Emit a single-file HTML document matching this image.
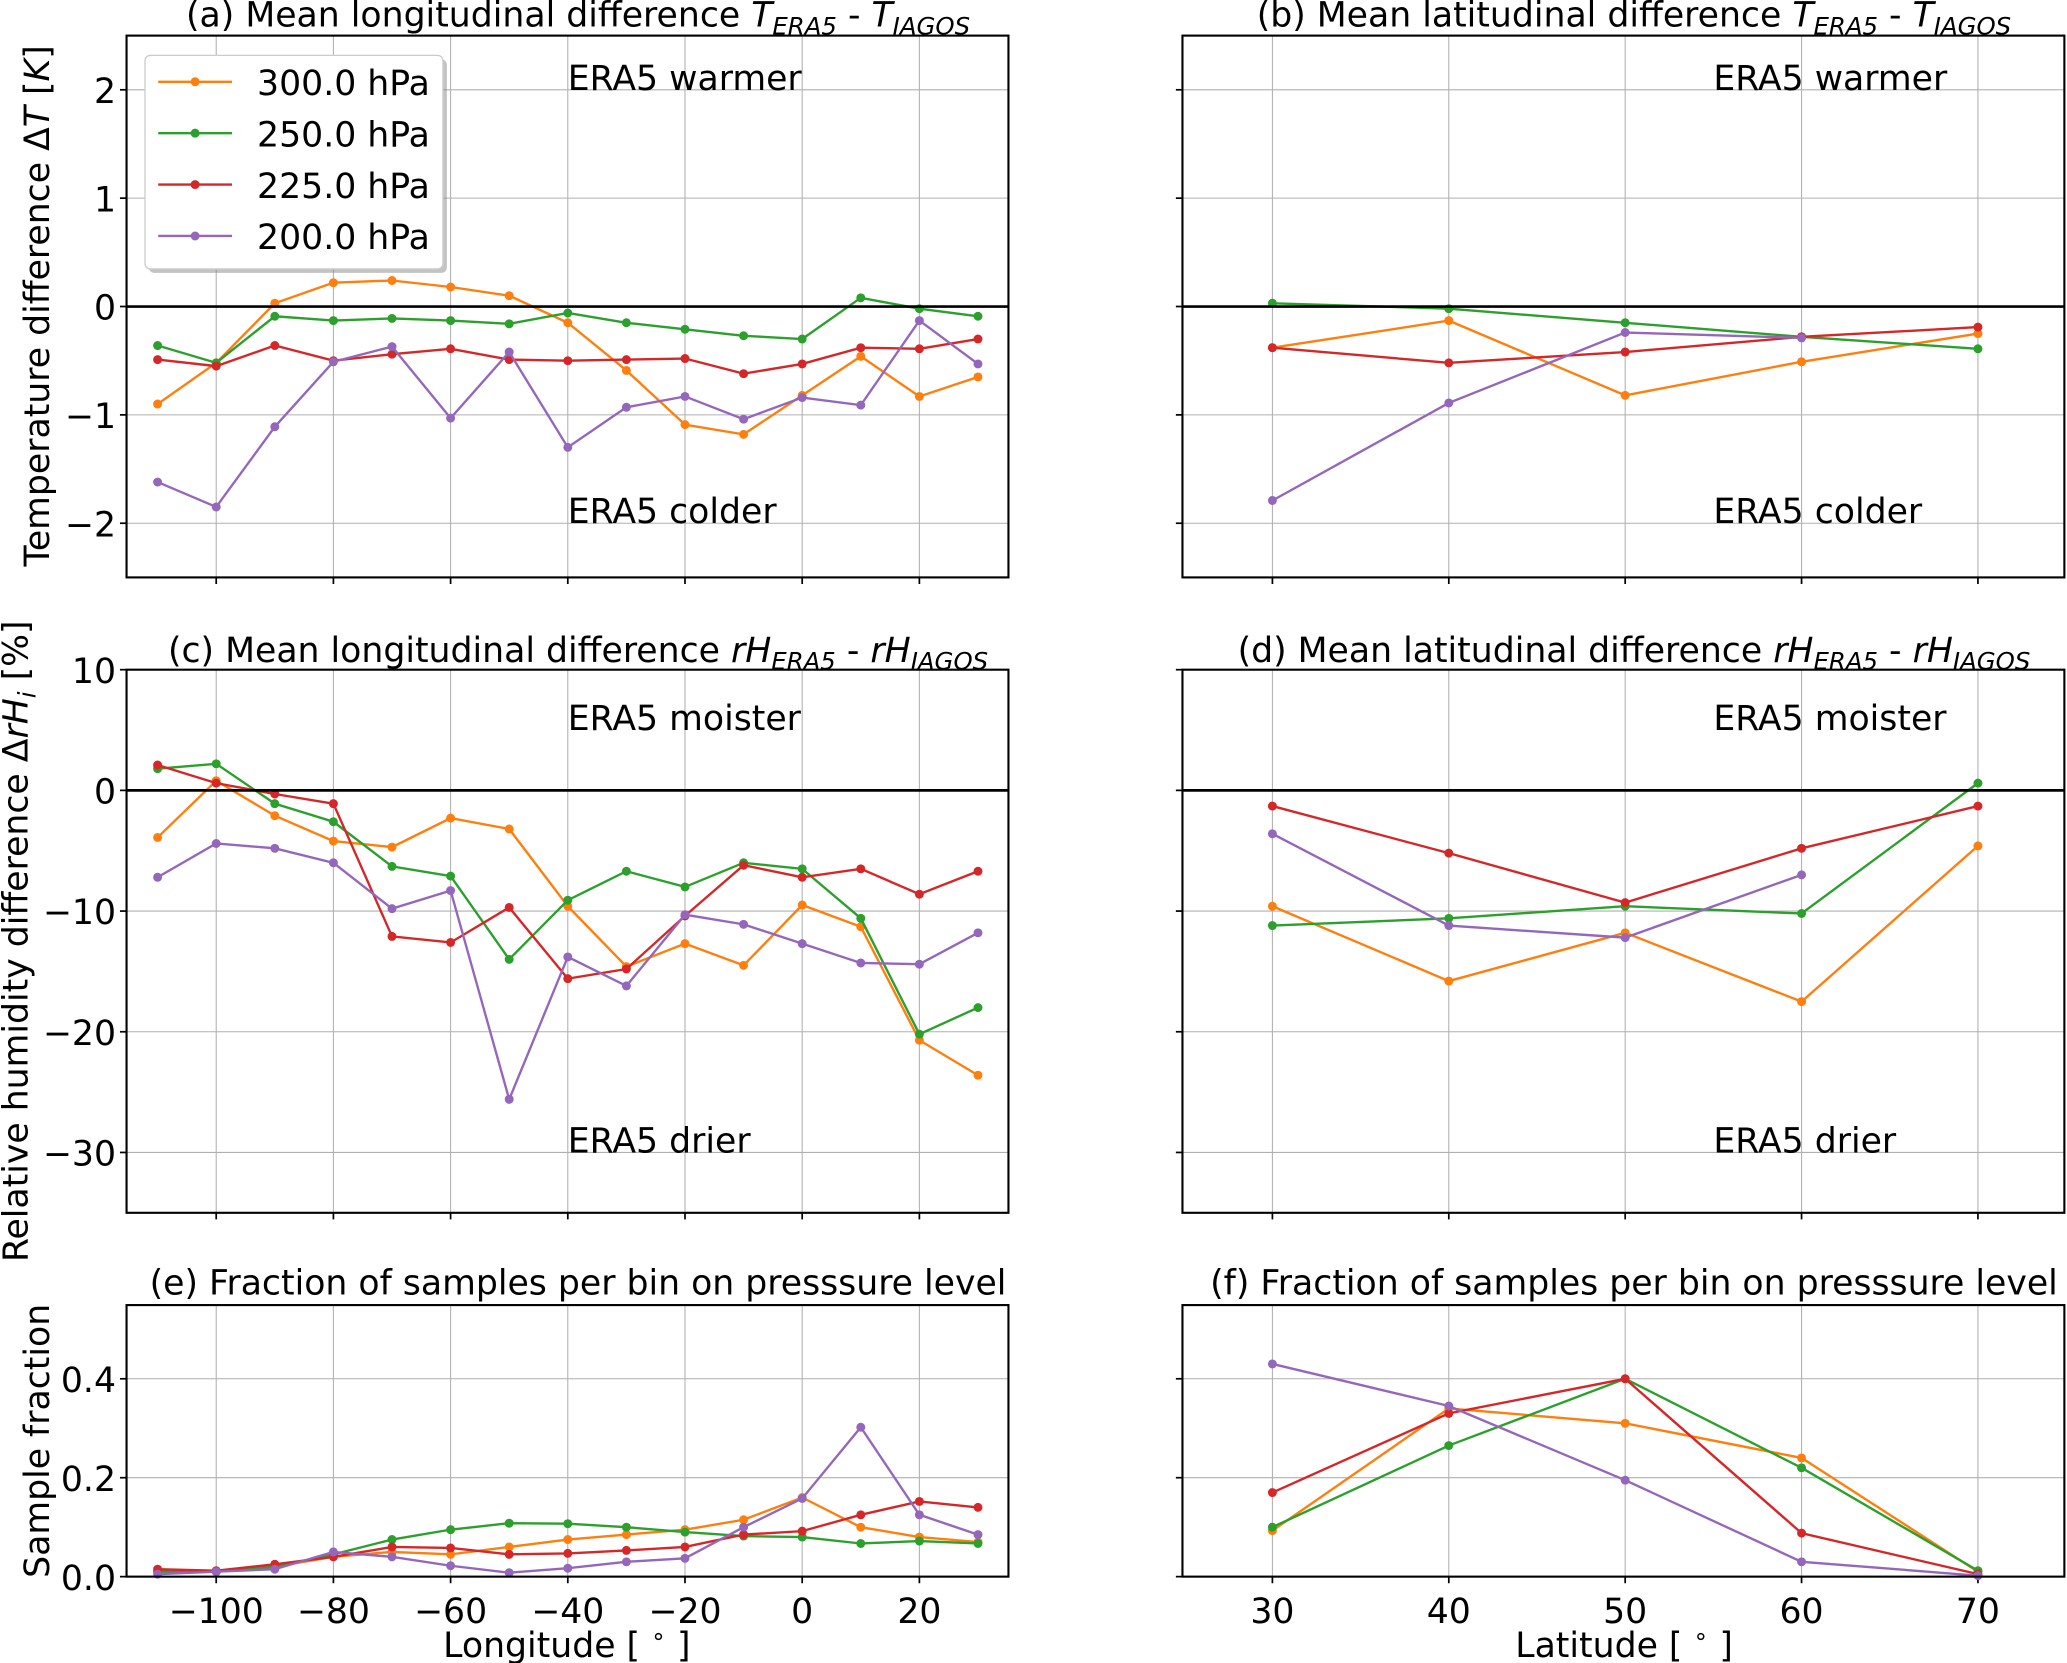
<!DOCTYPE html>
<html><head><meta charset="utf-8"><style>
html,body{margin:0;padding:0;background:#fff}
svg{display:block}
text{font-family:"DejaVu Sans","Liberation Sans",sans-serif;fill:#000}
</style></head><body>
<svg id="fig" xmlns="http://www.w3.org/2000/svg" width="2067" height="1663" viewBox="0 0 1568 1261.5"></svg>
<script>
const lonX = [-110,-100,-90,-80,-70,-60,-50,-40,-30,-20,-10,0,10,20,30];
const latX = [30,40,50,60,70];
const seriesNames = ['300.0 hPa','250.0 hPa','225.0 hPa','200.0 hPa'];
const seriesColors = ['#ff7f0e','#2ca02c','#d62728','#9467bd'];
// (a) temperature, longitude
const aOrange = [-0.9,-0.52,0.03,0.22,0.24,0.18,0.1,-0.15,-0.59,-1.09,-1.18,-0.82,-0.46,-0.83,-0.65];
const aGreen  = [-0.36,-0.52,-0.09,-0.13,-0.11,-0.13,-0.16,-0.06,-0.15,-0.21,-0.27,-0.30,0.08,-0.02,-0.09];
const aRed    = [-0.49,-0.55,-0.36,-0.5,-0.44,-0.39,-0.49,-0.5,-0.49,-0.48,-0.62,-0.53,-0.38,-0.39,-0.3];
const aPurple = [-1.62,-1.85,-1.11,-0.51,-0.37,-1.03,-0.42,-1.3,-0.93,-0.83,-1.04,-0.84,-0.91,-0.13,-0.53];
// (b) temperature, latitude
const bOrange = [-0.38,-0.13,-0.82,-0.51,-0.25];
const bGreen  = [0.03,-0.02,-0.15,-0.28,-0.39];
const bRed    = [-0.38,-0.52,-0.42,-0.28,-0.19];
const bPurple = [-1.79,-0.89,-0.24,-0.29,null];
// (c) rH, longitude
const cOrange = [-3.9,0.8,-2.1,-4.2,-4.7,-2.3,-3.2,-9.6,-14.6,-12.7,-14.5,-9.5,-11.3,-20.7,-23.6];
const cGreen  = [1.8,2.2,-1.1,-2.6,-6.3,-7.1,-14,-9.1,-6.7,-8,-6,-6.5,-10.6,-20.2,-18];
const cRed    = [2.1,0.6,-0.3,-1.1,-12.1,-12.6,-9.7,-15.6,-14.8,-10.4,-6.2,-7.2,-6.5,-8.6,-6.7];
const cPurple = [-7.2,-4.4,-4.8,-6,-9.8,-8.3,-25.6,-13.8,-16.2,-10.3,-11.1,-12.7,-14.3,-14.4,-11.8];
// (d) rH, latitude
const dOrange = [-9.6,-15.8,-11.8,-17.5,-4.6];
const dGreen  = [-11.2,-10.6,-9.6,-10.2,0.6];
const dRed    = [-1.3,-5.2,-9.3,-4.8,-1.3];
const dPurple = [-3.6,-11.2,-12.2,-7.0,null];
// (e) sample fraction, longitude
const eOrange = [0.01,0.01,0.02,0.04,0.05,0.045,0.06,0.075,0.085,0.095,0.115,0.16,0.1,0.08,0.07];
const eGreen  = [0.01,0.01,0.02,0.045,0.075,0.095,0.108,0.107,0.1,0.09,0.082,0.08,0.067,0.072,0.067];
const eRed    = [0.015,0.012,0.025,0.04,0.06,0.058,0.045,0.047,0.053,0.06,0.085,0.092,0.125,0.152,0.14];
const ePurple = [0.005,0.01,0.015,0.05,0.04,0.022,0.008,0.017,0.03,0.037,0.1,0.158,0.302,0.125,0.085];
// (f) sample fraction, latitude
const fOrange = [0.093,0.34,0.31,0.24,0.01];
const fGreen  = [0.1,0.265,0.4,0.22,0.012];
const fRed    = [0.17,0.33,0.4,0.088,0.005];
const fPurple = [0.43,0.345,0.195,0.03,0.002];
const lonTicks = [-100,-80,-60,-40,-20,0,20];
const latTicks = [30,40,50,60,70];
const tTicks = [-2,-1,0,1,2];
const rhTicks = [-30,-20,-10,0,10];
const fracTicks = [0,0.2,0.4];

const FS=26.3, SFS=18.5;
const NS='http://www.w3.org/2000/svg';
const svg=document.getElementById('fig');
function mk(tag,attrs,parent){const e=document.createElementNS(NS,tag);for(const k in attrs)e.setAttribute(k,attrs[k]);(parent||svg).appendChild(e);return e;}
function fmt(v){let s=(Math.abs(v)<1e-9)?'0':String(v);return s.replace('-','\u2212');}

function panel(id,box,xdom,ydom,xticks,yticks,showYLabels,showXLabels,series,xs,tickFmt){
  const [L,R,T,B]=box;
  const g=mk('g',{});
  
  
  const sx=v=>L+(v-xdom[0])/(xdom[1]-xdom[0])*(R-L);
  const sy=v=>B-(v-ydom[0])/(ydom[1]-ydom[0])*(B-T);
  xticks.forEach(t=>{
    const gl=mk('line',{x1:sx(t),x2:sx(t),y1:T,y2:B,stroke:'#b0b0b0','stroke-width':0.8},g);
    
    mk('line',{x1:sx(t),x2:sx(t),y1:B,y2:B+5,stroke:'#000','stroke-width':1.3},g);
    if(showXLabels){const tx=mk('text',{x:sx(t),y:B+35,'text-anchor':'middle','font-size':FS},g);tx.textContent=fmt(t);
      }
  });
  yticks.forEach(t=>{
    const gl=mk('line',{x1:L,x2:R,y1:sy(t),y2:sy(t),stroke:'#b0b0b0','stroke-width':0.8},g);
    
    mk('line',{x1:L-5,x2:L,y1:sy(t),y2:sy(t),stroke:'#000','stroke-width':1.3},g);
    if(showYLabels){const tx=mk('text',{x:L-8,y:sy(t)+10,'text-anchor':'end','font-size':FS},g);tx.textContent=tickFmt?tickFmt(t):fmt(t);
      }
  });
  series.forEach((vals,i)=>{
    let d='';let pen=false;
    vals.forEach((v,j)=>{if(v===null){pen=false;return;}d+=(pen?'L':'M')+sx(xs[j]).toFixed(2)+','+sy(v).toFixed(2);pen=true;});
    const p=mk('path',{d:d,fill:'none',stroke:seriesColors[i],'stroke-width':1.8},g);
    
    
    vals.forEach((v,j)=>{if(v===null)return;
      const c=mk('circle',{cx:sx(xs[j]),cy:sy(v),r:3.4,fill:seriesColors[i]},g);
      
      
    });
  });
  return {g,sx,sy,L,R,T,B};
}
function zeroLine(p){const l=mk('line',{x1:p.L,x2:p.R,y1:p.sy(0),y2:p.sy(0),stroke:'#000','stroke-width':2},p.g);
  }
function frame(p){const r=mk('rect',{x:p.L,y:p.T,width:p.R-p.L,height:p.B-p.T,fill:'none',stroke:'#000','stroke-width':1.6},p.g);
  }
function note(p,x,y,s,name){const t=mk('text',{x:p.sx(x),y:p.sy(y),'font-size':FS},p.g);t.textContent=s;
  }
function title(p,html,y,name){const t=mk('text',{x:(p.L+p.R)/2+8,y:y,'text-anchor':'middle','font-size':FS},svg);t.innerHTML=html;
  }

const lonDom=[-115.3,35.2], latDom=[24.9,74.9];
const bA=[96,765,27,438], bB=[897,1566,27,438], bC=[96,765,508,920], bD=[897,1566,508,920], bE=[96,765,990,1196], bF=[897,1566,990,1196];
const pa=panel('a',bA,lonDom,[-2.5,2.5],lonTicks,tTicks,true,false,[aOrange,aGreen,aRed,aPurple],lonX);
zeroLine(pa);frame(pa);note(pa,-40,2,'ERA5 warmer','annotation-warmer');note(pa,-40,-2,'ERA5 colder','annotation-colder');
const pb=panel('b',bB,latDom,[-2.5,2.5],latTicks,tTicks,false,false,[bOrange,bGreen,bRed,bPurple],latX);
zeroLine(pb);frame(pb);note(pb,55,2,'ERA5 warmer','annotation-warmer');note(pb,55,-2,'ERA5 colder','annotation-colder');
const pc=panel('c',bC,lonDom,[-35,10],lonTicks,rhTicks,true,false,[cOrange,cGreen,cRed,cPurple],lonX);
zeroLine(pc);frame(pc);note(pc,-40,5,'ERA5 moister','annotation-moister');note(pc,-40,-30,'ERA5 drier','annotation-drier');
const pd=panel('d',bD,latDom,[-35,10],latTicks,rhTicks,false,false,[dOrange,dGreen,dRed,dPurple],latX);
zeroLine(pd);frame(pd);note(pd,55,5,'ERA5 moister','annotation-moister');note(pd,55,-30,'ERA5 drier','annotation-drier');
const pe=panel('e',bE,lonDom,[0,0.549],lonTicks,fracTicks,true,true,[eOrange,eGreen,eRed,ePurple],lonX,t=>t.toFixed(1));
frame(pe);
const pf=panel('f',bF,latDom,[0,0.549],latTicks,fracTicks,false,true,[fOrange,fGreen,fRed,fPurple],latX);
frame(pf);

const sub='<tspan font-style="italic">';
const s1='<tspan font-style="italic" font-size="'+SFS+'" dy="6">';
title(pa,'(a) Mean longitudinal difference '+sub+'T</tspan>'+s1+'ERA5</tspan><tspan dy="-6"> - </tspan>'+sub+'T</tspan>'+s1+'IAGOS</tspan>',20,'title-a');
title(pb,'(b) Mean latitudinal difference '+sub+'T</tspan>'+s1+'ERA5</tspan><tspan dy="-6"> - </tspan>'+sub+'T</tspan>'+s1+'IAGOS</tspan>',20,'title-b');
title(pc,'(c) Mean longitudinal difference '+sub+'rH</tspan>'+s1+'ERA5</tspan><tspan dy="-6"> - </tspan>'+sub+'rH</tspan>'+s1+'IAGOS</tspan>',502,'title-c');
title(pd,'(d) Mean latitudinal difference '+sub+'rH</tspan>'+s1+'ERA5</tspan><tspan dy="-6"> - </tspan>'+sub+'rH</tspan>'+s1+'IAGOS</tspan>',502,'title-d');
title(pe,'(e) Fraction of samples per bin on presssure level',982,'title-e');
title(pf,'(f) Fraction of samples per bin on presssure level',982,'title-f');

function ylab(cx,cy,html,name){const t=mk('text',{x:0,y:0,'text-anchor':'middle','font-size':FS,transform:'translate('+cx+','+cy+') rotate(-90)'});t.innerHTML=html;
  }
ylab(37,232,'Temperature difference Δ<tspan font-style="italic">T</tspan> [<tspan font-style="italic">K</tspan>]','y-axis-title-temperature');
ylab(21,714,'Relative humidity difference Δ<tspan font-style="italic">rH</tspan><tspan font-style="italic" font-size="'+SFS+'" dy="6">i</tspan><tspan dy="-6"> [%]</tspan>','y-axis-title-humidity');
ylab(37,1093,'Sample fraction','y-axis-title-fraction');
function xlab(cx,cy,s,name){const t=mk('text',{x:cx,y:cy,'text-anchor':'middle','font-size':FS});t.innerHTML=s;
  }
xlab(430,1257,'Longitude [ <tspan font-size="18" dy="-10">∘</tspan><tspan dy="10"> ]</tspan>','x-axis-title-longitude');
xlab(1232,1257,'Latitude [ <tspan font-size="18" dy="-10">∘</tspan><tspan dy="10"> ]</tspan>','x-axis-title-latitude');

// legend
const lg=mk('g',{});


mk('rect',{x:113,y:45,width:226,height:162,rx:4,fill:'#888',opacity:0.5},lg);
mk('rect',{x:110,y:42,width:226,height:162,rx:4,fill:'#fff',stroke:'#ccc','stroke-width':1},lg);
seriesNames.forEach((n,i)=>{
  const y=62+i*39;
  const e=mk('g',{},lg);
  
  
  mk('line',{x1:120,x2:176,y1:y,y2:y,stroke:seriesColors[i],'stroke-width':1.8},e);
  mk('circle',{cx:148,cy:y,r:3.4,fill:seriesColors[i]},e);
  const t=mk('text',{x:195,y:y+10,'font-size':FS},e);t.textContent=n;
});
</script>
</body></html>
